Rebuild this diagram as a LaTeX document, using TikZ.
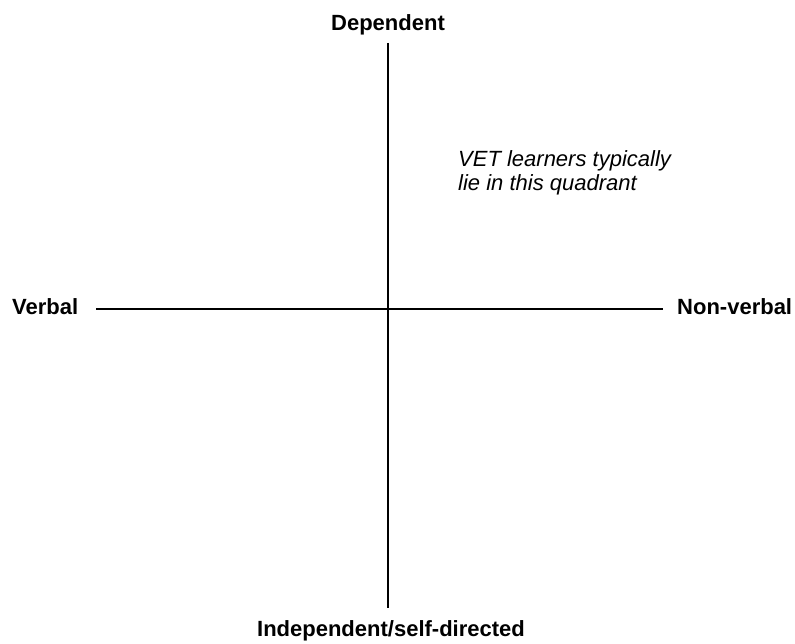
\documentclass[tikz,border=0pt]{standalone}
\usepackage{fontspec}
\setmainfont{Liberation Sans}
\begin{document}
\begin{tikzpicture}[
		x=1pt, y=-1pt,
		pole/.style={font=\fontsize{22}{26}\selectfont\bfseries, inner sep=0pt},
		note/.style={font=\fontsize{22}{24}\selectfont\itshape, align=left, inner sep=0pt},
		axis/.style={line width=1.5pt}
	]
	\useasboundingbox (0,0) rectangle (795,644);
	\node[pole, anchor=base] (dependent) at (388,31) {Dependent};
	\node[pole, anchor=base] (independent) at (391,636) {Independent/self-directed};
	\node[pole, anchor=base west] (verbal) at (12,314) {Verbal};
	\node[pole, anchor=base west] (nonverbal) at (677,314) {Non-verbal};
	\node[note, anchor=north west] (quadrant) at (458,150) {VET learners typically\\lie in this quadrant};
	\coordinate (top) at (388,43);
	\coordinate (bottom) at (388,608);
	\coordinate (left) at (96,309);
	\coordinate (right) at (663,309);
	\draw[axis] (top) -- (bottom);
	\draw[axis] (left) -- (right);
\end{tikzpicture}
\end{document}
